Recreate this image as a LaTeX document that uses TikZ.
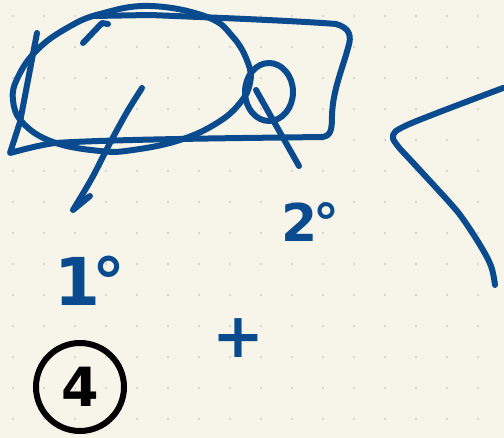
\documentclass[tikz,border=0pt]{standalone}
\usepackage{fontspec}
\newfontfamily\hand{DejaVu Sans}
\definecolor{paper}{HTML}{F7F5E9}
\definecolor{griddot}{HTML}{CFCDC4}
\definecolor{pen}{HTML}{0A4A8F}
\tikzset{
  stroke/.style={draw=pen, line width=6pt, line cap=round, line join=round},
  handtext/.style={text=pen, inner sep=0pt, font=\hand}
}
\begin{document}
\begin{tikzpicture}[x=1pt,y=-1pt]
\useasboundingbox (0,0) rectangle (504,438);
\fill[paper] (0,0) rectangle (504,438);
\foreach \i in {0,...,15}{
  \foreach \j in {0,...,13}{
    \fill[griddot] (13+31*\i,16+31*\j) circle (1.1pt);
  }
}
% big ellipse
\draw[stroke] plot[smooth cycle, tension=0.7] coordinates {(150,6) (207,17) (233,37) (248,63) (250,83) (240,103) (217,123) (180,140) (133,150) (100,151) (53,142) (23,123) (13,100) (18,77) (37,50) (67,28) (100,14)};
% rectangle-like box
\draw[stroke] (37,33) -- (20,122) -- (10,153) .. controls (25,149) and (40,145) .. (55,143)
  .. controls (120,139) and (250,138) .. (322,137) .. controls (331,136) and (332,130) .. (332,115)
  .. controls (333,90) and (342,70) .. (348,48) .. controls (352,36) and (350,28) .. (336,24)
  .. controls (300,21) and (200,17) .. (150,15) -- (93,16);
% hook at top
\draw[stroke] (83,43) -- (102,23) -- (108,24);
% small loop
\draw[stroke] (269,92) ellipse [x radius=24, y radius=29];
\draw[stroke] (256,90) -- (299,166);
% arrow stroke
\draw[stroke] plot[smooth] coordinates {(142,88) (127,112) (110,143) (92,178) (73,210)} -- (90,196);
% right curve
\draw[stroke] plot[smooth, tension=0.6] coordinates {(503,88) (437,113) (403,127) (393,135) (397,145) (417,167) (450,203) (463,219) (480,245) (491,266) (495,285)};
% labels
\node[handtext, anchor=base west, font=\hand\bfseries\fontsize{66}{66}\selectfont] (one) at (54,306) {1\kern-8pt°};
\node[handtext, anchor=base west, font=\hand\bfseries\fontsize{52}{52}\selectfont] (two) at (281,242) {2\kern-4pt°};
\node[handtext, font=\hand\bfseries\fontsize{62}{62}\selectfont] (plus) at (238,338) {+};
\node[circle, draw=black, line width=6pt, minimum size=88pt, inner sep=0pt, text=black, font=\hand\bfseries\fontsize{54}{54}\selectfont] (four) at (80,387) {4};
\end{tikzpicture}
\end{document}
